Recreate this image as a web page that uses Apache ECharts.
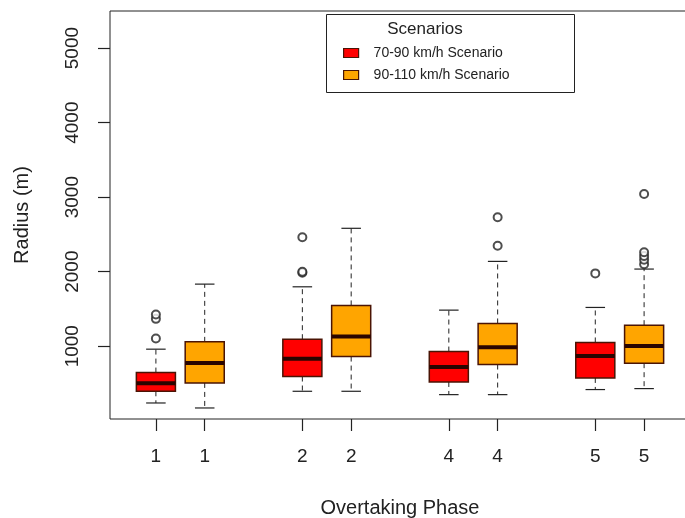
<!DOCTYPE html>
<html>
<head>
<meta charset="utf-8">
<title>Radius by overtaking phase</title>
<script src="https://cdn.jsdelivr.net/npm/echarts@6.0.0/dist/echarts.min.js"></script>
<style>
    html, body { margin: 0; padding: 0; background: #fff; }
    #chart { width: 685px; height: 518px; }
</style>
</head>
<body>
<div id="chart"></div>
<script>
// x positions of the boxes (R style: at = 1,2, 4,5, 7,8, 10,11) and their labels
const positions = [1, 2, 4, 5, 7, 8, 10, 11];
const phaseLabels = ['1', '1', '2', '2', '4', '4', '5', '5'];
const yTicks = [1000, 2000, 3000, 4000, 5000];

// five-number summaries [min, Q1, median, Q3, max] per phase 1, 2, 4, 5
const lowPos = [1, 4, 7, 10];
const lowStats = [
    [238, 395, 503, 646, 960],
    [395, 593, 830, 1094, 1797],
    [350, 520, 722, 928, 1484],
    [418, 574, 870, 1050, 1520],
];
const lowOutliers = [
    [1103, 1367, 1426],
    [1985, 2000, 2461],
    [],
    [1977],
];

const highPos = [2, 5, 8, 11];
const highStats = [
    [171, 507, 776, 1058, 1833],
    [395, 861, 1130, 1547, 2582],
    [350, 754, 987, 1305, 2138],
    [431, 772, 1004, 1282, 2035],
];
const highOutliers = [
    [],
    [],
    [2348, 2730],
    [2100, 2160, 2210, 2260, 3043],
];

const lowName = '70-90 km/h Scenario',
    highName = '90-110 km/h Scenario';
const lowColor = '#ff0000',
    highColor = '#ffa500',
    edgeColor = '#4a1405',
    inkColor = '#222';
const font = "'Liberation Sans', Arial, sans-serif";

// box drawing in the style of R's boxplot()
function renderBox(params, api) {
    const x = api.value(0);
    const v = [1, 2, 3, 4, 5].map((i) => api.value(i));
    const w = api.size([0.8, 0])[0];
    const sw = w / 2;
    const pMin = api.coord([x, v[0]]),
        pQ1 = api.coord([x, v[1]]),
        pMed = api.coord([x, v[2]]),
        pQ3 = api.coord([x, v[3]]),
        pMax = api.coord([x, v[4]]);
    const cx = pMed[0];
    const dash = { stroke: inkColor, lineWidth: 1, lineDash: [5, 4] };
    const solid = { stroke: inkColor, lineWidth: 1.2 };
    return {
        type: 'group',
        children: [
            { type: 'line', shape: { x1: cx, y1: pQ1[1], x2: cx, y2: pMin[1] }, style: dash },
            { type: 'line', shape: { x1: cx, y1: pQ3[1], x2: cx, y2: pMax[1] }, style: dash },
            { type: 'line', shape: { x1: cx - sw / 2, y1: pMin[1], x2: cx + sw / 2, y2: pMin[1] }, style: solid },
            { type: 'line', shape: { x1: cx - sw / 2, y1: pMax[1], x2: cx + sw / 2, y2: pMax[1] }, style: solid },
            {
                type: 'rect',
                shape: { x: cx - w / 2, y: pQ3[1], width: w, height: pQ1[1] - pQ3[1] },
                style: { fill: api.visual('color'), stroke: edgeColor, lineWidth: 1.5 },
            },
            {
                type: 'line',
                shape: { x1: cx - w / 2, y1: pMed[1], x2: cx + w / 2, y2: pMed[1] },
                style: { stroke: '#2a0500', lineWidth: 4 },
            },
        ],
    };
}

const boxData = (pos, stats) => stats.map((s, i) => [pos[i]].concat(s));
const outlierData = (pos, outs) =>
    outs.flatMap((list, i) => list.map((v) => [pos[i], v]));

const option = {
    animation: false,
    textStyle: { fontFamily: font },
    grid: {
        left: 110,
        right: -5,
        top: 11,
        bottom: 99,
        outerBoundsMode: 'none',
        containLabel: false,
        show: true,
        borderColor: inkColor,
        borderWidth: 1,
        backgroundColor: 'transparent',
    },
    graphic: [
        {
            type: 'rect',
            left: 326,
            top: 14,
            shape: { width: 248, height: 78 },
            style: { fill: '#fff', stroke: inkColor, lineWidth: 1 },
            z: 50,
        },
        {
            type: 'text',
            x: 425,
            y: 29,
            style: {
                text: 'Scenarios',
                fontSize: 17,
                fontFamily: font,
                fill: inkColor,
                align: 'center',
                verticalAlign: 'middle',
            },
            z: 51,
        },
    ],
    legend: {
        orient: 'vertical',
        left: 343,
        top: 46,
        padding: 0,
        itemWidth: 15,
        itemHeight: 9,
        itemGap: 8,
        z: 52,
        textStyle: {
            fontSize: 14,
            lineHeight: 14,
            color: inkColor,
            fontFamily: font,
            padding: [0, 0, 0, 10],
        },
        data: [
            { name: lowName, icon: 'rect', itemStyle: { color: lowColor, borderColor: edgeColor, borderWidth: 1.2 } },
            { name: highName, icon: 'rect', itemStyle: { color: highColor, borderColor: edgeColor, borderWidth: 1.2 } },
        ],
    },
    xAxis: {
        type: 'value',
        min: 0.06,
        max: 11.94,
        name: 'Overtaking Phase',
        nameLocation: 'middle',
        nameGap: 79,
        nameTextStyle: { fontSize: 20, color: inkColor, fontFamily: font },
        axisLine: { show: false },
        splitLine: { show: false },
        axisTick: {
            show: true,
            length: 12,
            customValues: positions,
            lineStyle: { color: inkColor, width: 1.2 },
        },
        axisLabel: {
            customValues: positions,
            fontSize: 19,
            color: inkColor,
            margin: 28,
            formatter: (val) => phaseLabels[positions.indexOf(Math.round(val))] || '',
        },
    },
    yAxis: {
        type: 'value',
        min: 23,
        max: 5498,
        name: 'Radius (m)',
        nameLocation: 'middle',
        nameGap: 78,
        nameTextStyle: { fontSize: 20, color: inkColor, fontFamily: font },
        axisLine: { show: false },
        splitLine: { show: false },
        axisTick: {
            show: true,
            length: 12,
            customValues: yTicks,
            lineStyle: { color: inkColor, width: 1.2 },
        },
        axisLabel: {
            customValues: yTicks,
            rotate: 90,
            fontSize: 19,
            color: inkColor,
            margin: 28,
            formatter: (val) => String(val),
        },
    },
    series: [
        {
            name: lowName,
            type: 'custom',
            renderItem: renderBox,
            itemStyle: { color: lowColor },
            encode: { x: 0, y: [1, 2, 3, 4, 5] },
            data: boxData(lowPos, lowStats),
            z: 3,
        },
        {
            name: highName,
            type: 'custom',
            renderItem: renderBox,
            itemStyle: { color: highColor },
            encode: { x: 0, y: [1, 2, 3, 4, 5] },
            data: boxData(highPos, highStats),
            z: 3,
        },
        {
            name: 'outliers low',
            type: 'scatter',
            symbol: 'emptyCircle',
            symbolSize: 8,
            itemStyle: { color: inkColor, borderWidth: 1.2 },
            data: outlierData(lowPos, lowOutliers),
            z: 4,
        },
        {
            name: 'outliers high',
            type: 'scatter',
            symbol: 'emptyCircle',
            symbolSize: 8,
            itemStyle: { color: inkColor, borderWidth: 1.2 },
            data: outlierData(highPos, highOutliers),
            z: 4,
        },
    ],
};

const myChart = echarts.init(document.getElementById('chart'));
myChart.setOption(option);
</script>
</body>
</html>
